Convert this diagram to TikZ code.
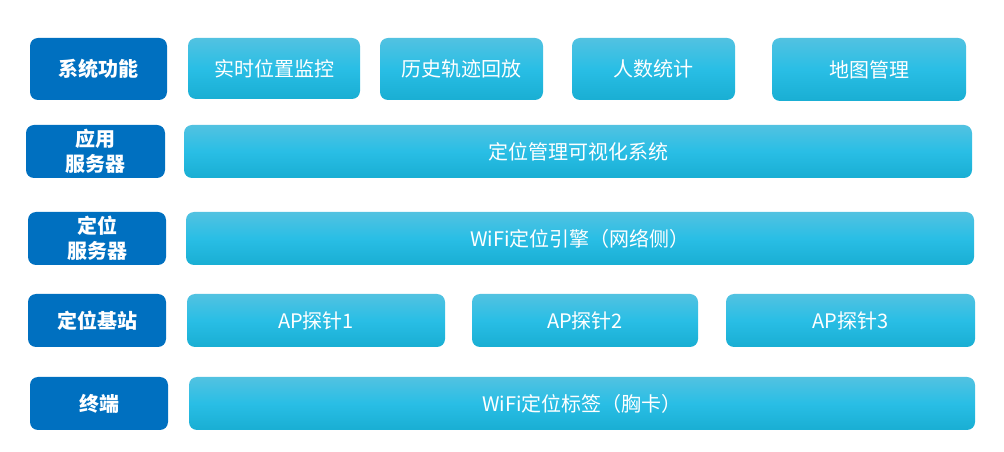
\documentclass[tikz,border=0pt]{standalone}
\usepackage{fontspec}
\setmainfont{Noto Sans CJK SC}

\definecolor{tagblue}{HTML}{0070C0}
\definecolor{skytop}{HTML}{52C2E1}
\definecolor{skymid}{HTML}{29BEE5}
\definecolor{skybot}{HTML}{19AED3}

\begin{document}
\begin{tikzpicture}[x = 0.75pt, y = -0.75pt, every node/.style = {text = white, inner sep = 0pt, align = center},
	size/.style 2 args = {minimum width = #1*0.75pt, minimum height = #2*0.75pt},
	tagbox/.style = {fill = tagblue, rounded corners = 6pt, font = \bfseries\fontsize{15}{19}\selectfont},
	layerbox/.style = {top color = skytop, bottom color = skybot, middle color = skymid, rounded corners = 6pt, font = \fontsize{15}{19}\selectfont}]

	% Page frame

	\useasboundingbox (0, 0) rectangle (1004, 452);

	% Layer names

	\node [tagbox, size = {137}{62}] (sys)  at (98.5, 69)   {系统功能};
	\node [tagbox, size = {139}{53}] (app)  at (95.5, 151.5) {应用\\服务器};
	\node [tagbox, size = {138}{53}] (loc)  at (97, 238.5)  {定位\\服务器};
	\node [tagbox, size = {138}{53}] (base) at (97, 320.5)  {定位基站};
	\node [tagbox, size = {138}{53}] (term) at (99, 403.5)  {终端};

	% System functions

	\node [layerbox, size = {172}{61}] (track) at (274, 68.5)  {实时位置监控};
	\node [layerbox, size = {163}{62}] (hist)  at (461.5, 69)  {历史轨迹回放};
	\node [layerbox, size = {163}{62}] (count) at (653.5, 69)  {人数统计};
	\node [layerbox, size = {194}{63}] (map)   at (869, 69.5)  {地图管理};

	% Servers

	\node [layerbox, size = {788}{53}] (vis) at (578, 151.5) {定位管理可视化系统};
	\node [layerbox, size = {788}{53}] (eng) at (580, 238.5) {WiFi定位引擎（网络侧）};

	% Base stations

	\node [layerbox, size = {258}{53}] (apA) at (316, 320.5)   {AP探针1};
	\node [layerbox, size = {226}{53}] (apB) at (585, 320.5)   {AP探针2};
	\node [layerbox, size = {249}{53}] (apC) at (850.5, 320.5) {AP探针3};

	% Terminal

	\node [layerbox, size = {786}{53}] (tag) at (582, 403.5) {WiFi定位标签（胸卡）};

\end{tikzpicture}
\end{document}
